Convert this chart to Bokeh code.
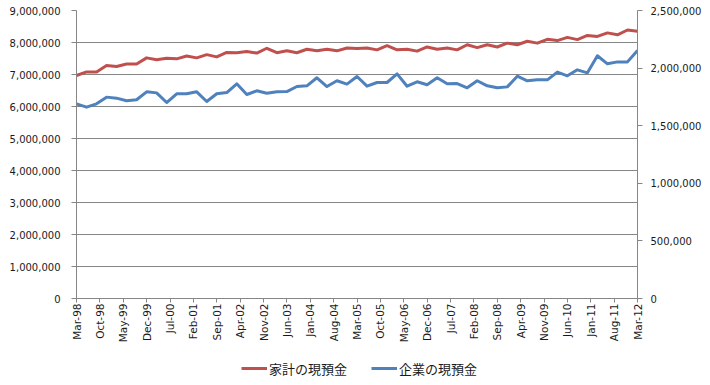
import math
from bokeh.plotting import figure
from bokeh.layouts import column
from bokeh.models import (Range1d, LinearAxis, FixedTicker, NumeralTickFormatter,
                          Legend, LegendItem, ColumnDataSource)
from bokeh.embed import file_html
from bokeh.resources import INLINE

# x-axis tick labels (every 7 months from Mar-98)
tick_labels = ["Mar-98", "Oct-98", "May-99", "Dec-99", "Jul-00", "Feb-01", "Sep-01",
               "Apr-02", "Nov-02", "Jun-03", "Jan-04", "Aug-04", "Mar-05", "Oct-05",
               "May-06", "Dec-06", "Jul-07", "Feb-08", "Sep-08", "Apr-09", "Nov-09",
               "Jun-10", "Jan-11", "Aug-11", "Mar-12"]

# quarterly observations Mar-98 .. Mar-12 (57 quarters)
household = [6970000, 7080000, 7080000, 7280000, 7250000, 7330000, 7330000, 7520000,
             7460000, 7510000, 7490000, 7580000, 7520000, 7620000, 7550000, 7690000,
             7680000, 7720000, 7670000, 7820000, 7680000, 7740000, 7680000, 7790000,
             7740000, 7790000, 7740000, 7830000, 7810000, 7830000, 7770000, 7900000,
             7770000, 7790000, 7730000, 7860000, 7790000, 7830000, 7770000, 7930000,
             7840000, 7930000, 7860000, 7980000, 7930000, 8040000, 7980000, 8100000,
             8060000, 8160000, 8090000, 8220000, 8190000, 8300000, 8240000, 8390000,
             8350000]

corporate = [1690000, 1661000, 1690000, 1748000, 1739000, 1716000, 1725000, 1794000,
             1785000, 1701000, 1777000, 1777000, 1794000, 1710000, 1777000, 1788000,
             1864000, 1771000, 1803000, 1782000, 1794000, 1796000, 1840000, 1846000,
             1916000, 1840000, 1890000, 1861000, 1927000, 1843000, 1875000, 1875000,
             1950000, 1843000, 1881000, 1855000, 1916000, 1864000, 1866000, 1829000,
             1890000, 1846000, 1829000, 1837000, 1930000, 1890000, 1898000, 1898000,
             1965000, 1933000, 1985000, 1959000, 2107000, 2037000, 2054000, 2054000,
             2153000]

series_names = ["家計の現預金", "企業の現預金"]
series_colors = ["#C0504D", "#4F81BD"]

left_ticks = [0, 1000000, 2000000, 3000000, 4000000, 5000000, 6000000, 7000000, 8000000, 9000000]
right_ticks = [0, 500000, 1000000, 1500000, 2000000, 2500000]

months = [3 * i for i in range(len(household))]  # months since Mar-98
tick_months = [7 * k for k in range(len(tick_labels))]

src = ColumnDataSource(dict(m=months, household=household, corporate=corporate))

GRID = "#868686"
TXT = "#1a1a1a"
FONT = "DejaVu Sans"

p = figure(width=710, height=348, output_backend="svg", toolbar_location=None,
           x_range=Range1d(0, months[-1]), y_range=Range1d(left_ticks[0], left_ticks[-1]),
           min_border_left=76, min_border_right=73, min_border_top=10, min_border_bottom=50,
           background_fill_color="white", border_fill_color="white")
p.outline_line_color = None
p.extra_y_ranges = {"right": Range1d(right_ticks[0], right_ticks[-1])}

ya = p.left[0]
ya.ticker = FixedTicker(ticks=left_ticks)
ya.formatter = NumeralTickFormatter(format="0,0")

ra = LinearAxis(y_range_name="right", ticker=FixedTicker(ticks=right_ticks),
                formatter=NumeralTickFormatter(format="0,0"))
p.add_layout(ra, "right")

xa = p.below[0]
xa.ticker = FixedTicker(ticks=tick_months)
xa.major_label_overrides = {m: lbl for m, lbl in zip(tick_months, tick_labels)}
xa.major_label_orientation = math.pi / 2

for ax in (ya, ra, xa):
    ax.axis_line_color = GRID
    ax.major_tick_line_color = GRID
    ax.minor_tick_line_color = None
    ax.major_tick_in = 0
    ax.major_tick_out = 5
    ax.major_label_text_font = FONT
    ax.major_label_text_font_size = "10px"
    ax.major_label_text_color = TXT
ya.major_label_standoff = 11
ra.major_label_standoff = 8
xa.major_tick_out = 4
xa.major_label_standoff = 1
xa.major_label_text_font_size = "10.5px"

p.xgrid.visible = False
p.ygrid.ticker = FixedTicker(ticks=left_ticks)
p.ygrid.grid_line_color = GRID
p.ygrid.grid_line_width = 1

r1 = p.line("m", "household", source=src, line_color=series_colors[0], line_width=3,
            line_join="round")
r2 = p.line("m", "corporate", source=src, y_range_name="right", line_color=series_colors[1],
            line_width=3, line_join="round")

# legend strip below the chart (its frame is aligned with the chart's frame);
# the series are drawn far outside its tiny range so only the legend keys show
lg = figure(width=710, height=37, output_backend="svg", toolbar_location=None,
            x_range=Range1d(0, 1), y_range=Range1d(0, 1),
            x_axis_type=None, y_axis_type=None,
            min_border_left=0, min_border_right=0, min_border_top=0, min_border_bottom=0,
            background_fill_color="white", border_fill_color="white")
lg.outline_line_color = None
lg.grid.visible = False
k1 = lg.line("m", "household", source=src, line_color=series_colors[0], line_width=3)
k2 = lg.line("m", "corporate", source=src, line_color=series_colors[1], line_width=3)

legend = Legend(items=[LegendItem(label=series_names[0], renderers=[k1]),
                       LegendItem(label=series_names[1], renderers=[k2])],
                orientation="horizontal", location=(165, 7),
                border_line_color=None, background_fill_alpha=0,
                label_text_font="Noto Sans CJK JP", label_text_font_size="13px",
                label_text_color=TXT, label_height=20, glyph_height=20,
                glyph_width=26, label_standoff=2, spacing=24, padding=0, margin=0)
lg.add_layout(legend)

layout = column(p, lg, spacing=0)
open("out.html", "w").write(file_html(layout, INLINE))
